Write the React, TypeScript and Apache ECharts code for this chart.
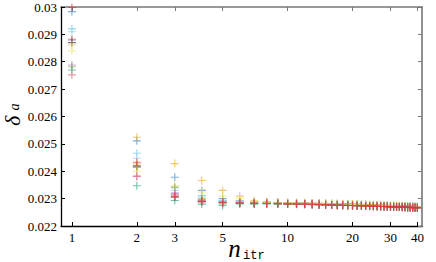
import React, { useEffect, useRef } from "react";
import * as echarts from "echarts";

const nItr = [
  1, 2, 3, 4, 5, 6, 7, 8, 9, 10, 11, 12, 13, 14, 15, 16, 17, 18, 19, 20,
  21, 22, 23, 24, 25, 26, 27, 28, 29, 30, 31, 32, 33, 34, 35, 36, 37, 38, 39, 40,
];
const xTicks = [1, 2, 3, 5, 10, 20, 30, 40];

const sBlue = [0.02983, 0.02511, 0.02378, 0.0233, 0.023, 0.02292, 0.02287, 0.02286, 0.02285, 0.02284, 0.02284, 0.02283, 0.02282, 0.02282, 0.02281, 0.0228, 0.0228, 0.02279, 0.02279, 0.02278, 0.02278, 0.02277, 0.02277, 0.02276, 0.02276, 0.02275, 0.02275, 0.02274, 0.02274, 0.02273, 0.02273, 0.02273, 0.02272, 0.02272, 0.02272, 0.02271, 0.02271, 0.02271, 0.0227, 0.0227];
const sCyan = [0.0292, 0.02466, 0.0234, 0.02311, 0.02293, 0.02288, 0.02288, 0.02287, 0.02286, 0.02285, 0.02285, 0.02284, 0.02283, 0.02283, 0.02282, 0.02282, 0.02281, 0.0228, 0.0228, 0.02279, 0.02279, 0.02278, 0.02278, 0.02277, 0.02277, 0.02276, 0.02276, 0.02275, 0.02275, 0.02274, 0.02274, 0.02274, 0.02273, 0.02273, 0.02273, 0.02272, 0.02272, 0.02272, 0.02271, 0.02271];
const sSky = [0.0291, 0.02448, 0.0233, 0.02305, 0.02292, 0.02287, 0.02285, 0.02284, 0.02284, 0.02283, 0.02282, 0.02282, 0.02281, 0.0228, 0.0228, 0.02279, 0.02278, 0.02278, 0.02277, 0.02277, 0.02276, 0.02276, 0.02275, 0.02275, 0.02274, 0.02274, 0.02273, 0.02273, 0.02272, 0.02272, 0.02272, 0.02271, 0.02271, 0.02271, 0.0227, 0.0227, 0.0227, 0.02269, 0.02269, 0.02269];
const sOrange = [0.02883, 0.02524, 0.02428, 0.02366, 0.0233, 0.02309, 0.02292, 0.02289, 0.02287, 0.02286, 0.02285, 0.02285, 0.02284, 0.02283, 0.02283, 0.02282, 0.02282, 0.02281, 0.02281, 0.0228, 0.0228, 0.02279, 0.02279, 0.02278, 0.02278, 0.02277, 0.02277, 0.02276, 0.02276, 0.02275, 0.02275, 0.02274, 0.02274, 0.02273, 0.02273, 0.02272, 0.02272, 0.02271, 0.02271, 0.0227];
const sPurple = [0.0288, 0.02417, 0.0232, 0.02296, 0.02289, 0.02285, 0.02284, 0.02283, 0.02283, 0.02282, 0.02281, 0.02281, 0.0228, 0.02279, 0.02279, 0.02278, 0.02278, 0.02277, 0.02277, 0.02276, 0.02276, 0.02275, 0.02275, 0.02274, 0.02274, 0.02273, 0.02273, 0.02272, 0.02272, 0.02271, 0.02271, 0.02271, 0.0227, 0.0227, 0.0227, 0.02269, 0.02269, 0.02269, 0.02268, 0.02268];
const sDark = [0.0287, 0.0242, 0.02305, 0.0229, 0.02286, 0.02284, 0.02283, 0.02283, 0.02282, 0.02281, 0.02281, 0.0228, 0.02279, 0.02279, 0.02278, 0.02277, 0.02277, 0.02276, 0.02276, 0.02275, 0.02275, 0.02274, 0.02274, 0.02273, 0.02273, 0.02272, 0.02272, 0.02271, 0.02271, 0.02271, 0.0227, 0.0227, 0.0227, 0.02269, 0.02269, 0.02269, 0.02268, 0.02268, 0.02268, 0.02267];
const sAmber = [0.02861, 0.02427, 0.02314, 0.02292, 0.02288, 0.02285, 0.02285, 0.02284, 0.02283, 0.02283, 0.02282, 0.02281, 0.02281, 0.0228, 0.0228, 0.02279, 0.02278, 0.02278, 0.02277, 0.02277, 0.02276, 0.02276, 0.02275, 0.02275, 0.02274, 0.02274, 0.02273, 0.02273, 0.02272, 0.02272, 0.02271, 0.02271, 0.02271, 0.0227, 0.0227, 0.0227, 0.02269, 0.02269, 0.02269, 0.02268];
const sYellow = [0.0284, 0.024, 0.02347, 0.02324, 0.02309, 0.023, 0.0229, 0.02287, 0.02285, 0.02284, 0.02283, 0.02283, 0.02282, 0.02281, 0.02281, 0.0228, 0.02279, 0.02279, 0.02278, 0.02278, 0.02277, 0.02277, 0.02276, 0.02276, 0.02275, 0.02275, 0.02274, 0.02274, 0.02273, 0.02273, 0.02273, 0.02272, 0.02272, 0.02271, 0.02271, 0.02271, 0.0227, 0.0227, 0.0227, 0.02269];
const sPurple2 = [0.02788, 0.02383, 0.02316, 0.02293, 0.02286, 0.02284, 0.02283, 0.02282, 0.02282, 0.02281, 0.02281, 0.0228, 0.02279, 0.02279, 0.02278, 0.02277, 0.02277, 0.02276, 0.02276, 0.02275, 0.02274, 0.02274, 0.02273, 0.02273, 0.02272, 0.02272, 0.02271, 0.02271, 0.02271, 0.0227, 0.0227, 0.0227, 0.02269, 0.02269, 0.02269, 0.02268, 0.02268, 0.02268, 0.02268, 0.02267];
const sOlive = [0.02782, 0.02414, 0.02342, 0.023, 0.02281, 0.02283, 0.02282, 0.02282, 0.02281, 0.02281, 0.0228, 0.02279, 0.02279, 0.02278, 0.02278, 0.02277, 0.02276, 0.02276, 0.02275, 0.02275, 0.02274, 0.02274, 0.02273, 0.02273, 0.02272, 0.02272, 0.02271, 0.02271, 0.0227, 0.0227, 0.0227, 0.02269, 0.02269, 0.02269, 0.02268, 0.02268, 0.02268, 0.02267, 0.02267, 0.02267];
const sTeal = [0.0277, 0.02347, 0.02293, 0.0228, 0.02275, 0.02281, 0.0228, 0.02281, 0.0228, 0.0228, 0.02279, 0.02279, 0.02278, 0.02278, 0.02277, 0.02277, 0.02276, 0.02276, 0.02275, 0.02275, 0.02274, 0.02274, 0.02273, 0.02273, 0.02272, 0.02272, 0.02271, 0.02271, 0.02271, 0.0227, 0.0227, 0.0227, 0.02269, 0.02269, 0.02269, 0.02268, 0.02268, 0.02268, 0.02267, 0.02267];
const sRed2 = [0.02752, 0.02381, 0.0231, 0.02287, 0.02284, 0.02282, 0.02282, 0.02282, 0.02281, 0.0228, 0.0228, 0.02279, 0.02279, 0.02278, 0.02277, 0.02277, 0.02276, 0.02276, 0.02275, 0.02275, 0.02274, 0.02273, 0.02273, 0.02272, 0.02272, 0.02271, 0.02271, 0.02271, 0.0227, 0.0227, 0.02269, 0.02269, 0.02269, 0.02268, 0.02268, 0.02268, 0.02267, 0.02267, 0.02267, 0.02266];
const sRed = [0.02998, 0.02433, 0.02308, 0.0229, 0.02287, 0.02285, 0.02283, 0.02282, 0.02282, 0.02281, 0.0228, 0.0228, 0.02279, 0.02278, 0.02278, 0.02277, 0.02276, 0.02276, 0.02275, 0.02275, 0.02274, 0.02274, 0.02273, 0.02273, 0.02272, 0.02272, 0.02271, 0.02271, 0.0227, 0.0227, 0.0227, 0.02269, 0.02269, 0.02269, 0.02268, 0.02268, 0.02268, 0.02267, 0.02267, 0.02267];

const seriesList: { name: string; color: string; values: number[] }[] = [
  { name: "s1", color: "#2f86c8", values: sBlue },
  { name: "s2", color: "#5cc0ea", values: sCyan },
  { name: "s3", color: "#9ad4f0", values: sSky },
  { name: "s4", color: "#f0a426", values: sOrange },
  { name: "s5", color: "#9a52b8", values: sPurple },
  { name: "s6", color: "#333333", values: sDark },
  { name: "s7", color: "#f5bf5a", values: sAmber },
  { name: "s8", color: "#ece35a", values: sYellow },
  { name: "s9", color: "#b27ad0", values: sPurple2 },
  { name: "s10", color: "#9aa834", values: sOlive },
  { name: "s11", color: "#1fa57d", values: sTeal },
  { name: "s12", color: "#e4606a", values: sRed2 },
  { name: "s13", color: "#e0303c", values: sRed },
];

const SERIF = "Liberation Serif";

export default function App() {
  const ref = useRef<HTMLDivElement>(null);
  useEffect(() => {
    if (!ref.current) return;
    const chart = echarts.init(ref.current, null, { renderer: "svg" });
    const xMin = 0.89;
    const xMax = 42;
    const option: any = {
      animation: false,
      textStyle: { fontFamily: SERIF },
      grid: { left: 61, right: 14, top: 7, bottom: 36 },
      xAxis: [
        {
          type: "log",
          logBase: 10,
          min: xMin,
          max: xMax,
          axisLine: { show: true, lineStyle: { color: "#000", width: 1.3 } },
          axisTick: { show: true, inside: true, length: 4, customValues: xTicks, lineStyle: { color: "#000" } },
          axisLabel: { show: true, customValues: xTicks, fontFamily: SERIF, fontSize: 13, color: "#000", margin: 5 },
          minorTick: { show: false },
          splitLine: { show: false },
        },
        {
          type: "log",
          logBase: 10,
          position: "top",
          min: xMin,
          max: xMax,
          axisLine: { show: true, lineStyle: { color: "#777", width: 1.6 } },
          axisTick: { show: true, inside: true, length: 4, customValues: xTicks, lineStyle: { color: "#777" } },
          axisLabel: { show: false, customValues: xTicks },
          splitLine: { show: false },
        },
      ],
      yAxis: [
        {
          type: "value",
          min: 0.022,
          max: 0.03,
          interval: 0.001,
          axisLine: { show: true, lineStyle: { color: "#000", width: 1.3 } },
          axisTick: { show: true, inside: true, length: 4, lineStyle: { color: "#000" } },
          axisLabel: { fontFamily: SERIF, fontSize: 13, color: "#000", margin: 4 },
          splitLine: { show: false },
        },
        {
          type: "value",
          position: "right",
          min: 0.022,
          max: 0.03,
          interval: 0.001,
          axisLine: { show: true, lineStyle: { color: "#777", width: 1.6 } },
          axisTick: { show: true, inside: true, length: 4, lineStyle: { color: "#777" } },
          axisLabel: { show: false },
          splitLine: { show: false },
        },
      ],
      series: seriesList.map((s) => ({
        type: "scatter",
        name: s.name,
        xAxisIndex: 0,
        yAxisIndex: 0,
        symbol: "path://M5,0L5,10M0,5L10,5",
        symbolSize: 8,
        itemStyle: { color: s.color, borderColor: s.color, borderWidth: 1.1, opacity: 0.65 },
        emphasis: { disabled: true },
        data: nItr.map((n, i) => [n, s.values[i]]),
      })),
      graphic: [
        {
          type: "text",
          x: 12,
          y: 121,
          rotation: Math.PI / 2,
          style: { text: "δ", fontFamily: SERIF, fontStyle: "italic", fontSize: 22, fill: "#000", textAlign: "center", textVerticalAlign: "middle" },
        },
        {
          type: "text",
          x: 14,
          y: 107,
          rotation: Math.PI / 2,
          style: { text: "a", fontFamily: SERIF, fontStyle: "italic", fontSize: 14, fill: "#000", textAlign: "center", textVerticalAlign: "middle" },
        },
        {
          type: "text",
          x: 234.5,
          y: 248,
          style: { text: "n", fontFamily: SERIF, fontStyle: "italic", fontSize: 25, fill: "#000", textAlign: "center", textVerticalAlign: "middle" },
        },
        {
          type: "text",
          x: 243,
          y: 255.5,
          style: { text: "itr", fontFamily: "Liberation Mono", fontSize: 12, fill: "#000", textAlign: "left", textVerticalAlign: "middle" },
        },
      ],
    };
    chart.setOption(option);
    return () => chart.dispose();
  }, []);
  return (
    <div
      ref={ref}
      style={{ position: "fixed", left: 0, top: 0, width: 436, height: 262, background: "#fff" }}
    />
  );
}
